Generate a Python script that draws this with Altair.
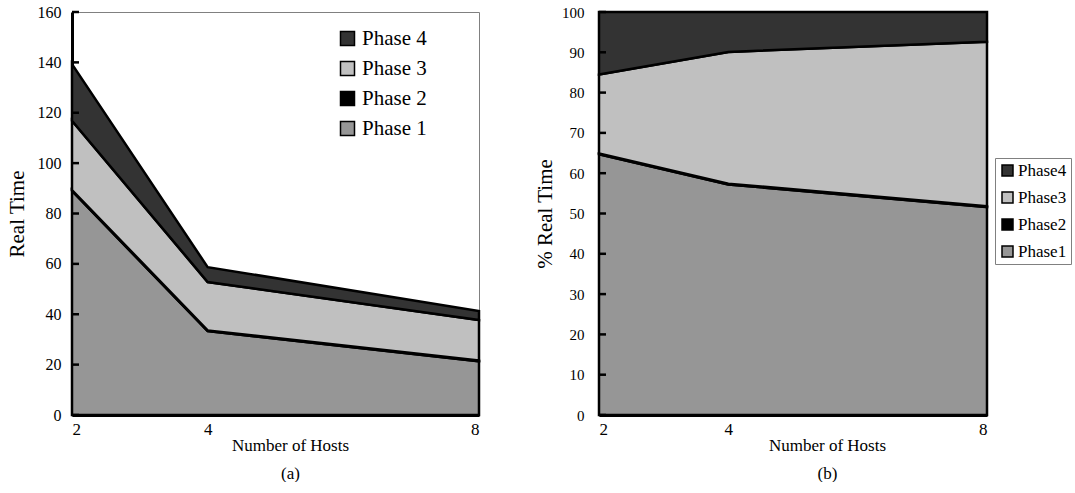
import altair as alt
import pandas as pd

hosts = [2, 4, 8]
phases = ["Phase 1", "Phase 2", "Phase 3", "Phase 4"]
time_p1 = [89.0, 33.3, 21.3]
time_p2 = [0.3, 0.3, 0.3]
time_p3 = [27.5, 19.2, 16.1]
time_p4 = [22.5, 5.9, 3.6]
pct_p1 = [64.7, 57.2, 51.6]
pct_p2 = [0.2, 0.2, 0.2]
pct_p3 = [19.6, 32.7, 40.8]
pct_p4 = [15.5, 9.9, 7.4]
time_ticks = [0, 20, 40, 60, 80, 100, 120, 140, 160]
pct_ticks = [0, 10, 20, 30, 40, 50, 60, 70, 80, 90, 100]
legend_order = ["Phase 4", "Phase 3", "Phase 2", "Phase 1"]
colors = ["#333333", "#c0c0c0", "#000000", "#969696"]

FONT = "Liberation Serif"


def long_df(series):
    rows = []
    for k, (name, vals) in enumerate(zip(phases, series)):
        for h, v in zip(hosts, vals):
            rows.append({"hosts": h, "phase": name, "ord": k, "value": v})
    return pd.DataFrame(rows)


def panel(df, ticks, ymax, ytitle, sub, width, legend, ylab_size, ylab_pad, ytitle_pad, title_x):
    yaxis = alt.Axis(values=ticks, ticks=False, labelPadding=ylab_pad, labelFont=FONT,
                     labelFontSize=ylab_size, labelColor="black", domainColor="black",
                     domainWidth=3, grid=False, title=ytitle, titleFont=FONT,
                     titleFontSize=21, titleFontWeight="normal", titleColor="black",
                     titlePadding=ytitle_pad)
    yscale = alt.Scale(domain=[0, ymax], nice=False)
    area = alt.Chart(df).mark_area(stroke="black", strokeWidth=2.5, strokeJoin="miter").encode(
        x=alt.X("hosts:Q", scale=alt.Scale(domain=[2, 8], nice=False, zero=False),
                axis=alt.Axis(values=hosts, ticks=False, labelFlush=True, labelPadding=6,
                              labelFont=FONT, labelFontSize=17, labelColor="black",
                              domainColor="black", domainWidth=3, grid=False,
                              title=["Number of Hosts", sub], titleFont=FONT, titleFontSize=17,
                              titleFontWeight="normal", titleColor="black", titleX=title_x,
                              titleY=35, titleBaseline="alphabetic", titleLineHeight=28,
                              titleAlign="center")),
        y=alt.Y("value:Q", stack="zero", scale=yscale, axis=yaxis),
        color=alt.Color("phase:N", scale=alt.Scale(domain=legend_order, range=colors), legend=legend),
        order=alt.Order("ord:Q", sort="ascending"),
    )
    tick_df = pd.DataFrame({"value": ticks})
    tick_rules = alt.Chart(tick_df).mark_rule(color="black", strokeWidth=2.5).encode(
        y=alt.Y("value:Q", scale=yscale, axis=yaxis), x=alt.value(0), x2=alt.value(7)
    )
    return alt.layer(area, tick_rules).properties(width=width, height=403)


left_legend = alt.Legend(orient="none", legendX=265, legendY=16, title=None, symbolType="square",
                         symbolSize=196, symbolStrokeColor="black", symbolStrokeWidth=1.5,
                         symbolOpacity=1, labelFont=FONT, labelFontSize=21, labelColor="black",
                         rowPadding=8, labelOffset=4)
right_legend = alt.Legend(orient="none", legendX=396, legendY=146, title=None, symbolType="square",
                          symbolSize=121, symbolStrokeColor="black", symbolStrokeWidth=1.5,
                          symbolOpacity=1, labelFont=FONT, labelFontSize=17, labelColor="black",
                          rowPadding=9, labelOffset=2, padding=4, strokeColor="#808080",
                          fillColor="white", labelExpr="replace(datum.label, ' ', '')")

left = panel(long_df([time_p1, time_p2, time_p3, time_p4]), time_ticks, 160, "Real Time", "(a)",
             407, left_legend, 16, 11, 10, 218)
right = panel(long_df([pct_p1, pct_p2, pct_p3, pct_p4]), pct_ticks, 100, "% Real Time", "(b)",
              388, right_legend, 15, 15, 6, 228)

chart = alt.hconcat(left, right, spacing=49).resolve_scale(
    color="independent", x="independent", y="independent"
).resolve_legend(color="independent").configure(
    padding={"left": 5, "top": 3, "right": 0, "bottom": 0}, background="white"
).configure_view(stroke="#808080", strokeWidth=1)

chart.save("out.html", embed_options={"renderer": "svg", "actions": False})
